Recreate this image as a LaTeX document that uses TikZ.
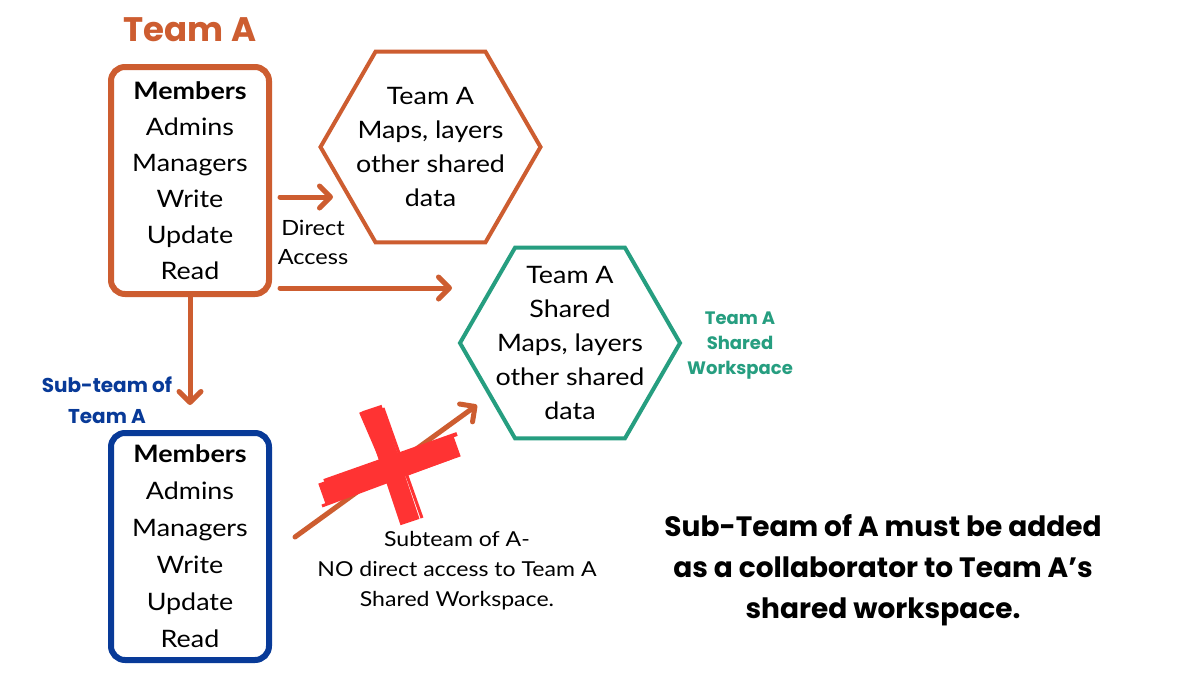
\documentclass[tikz,border=0pt]{standalone}
\usepackage{fontspec}
\setmainfont{Lato}[FakeStretch=1.12]
\newfontfamily\heavy{Poppins}
\usetikzlibrary{arrows.meta,shapes.geometric}
\definecolor{teamorange}{RGB}{205,93,48}
\definecolor{sharedgreen}{RGB}{38,158,128}
\definecolor{subblue}{RGB}{8,58,152}
\definecolor{crossred}{RGB}{255,51,51}

\begin{document}
\begin{tikzpicture}[x=0.5pt, y=-0.5pt,
    teambox/.style={draw, line width=3pt, rounded corners=7pt, minimum width=79pt,
      minimum height=113.5pt, inner sep=0pt, outer sep=0pt, align=center},
    hexa/.style={draw, regular polygon, regular polygon sides=6,
      minimum size=110pt, line width=2pt, inner sep=0pt, outer sep=0pt},
    hextext/.style={align=center, font=\fontsize{12}{17}\selectfont},
    link/.style={draw=teamorange, line width=2.5pt, line cap=round,
      -{Straight Barb[length=5.5pt,width=11pt,round]}},
    brush/.style={draw=crossred, line cap=butt}]
    \useasboundingbox[fill=white] (0,0) rectangle (1200,675);
    % team A and its data
    \node[font=\heavy\bfseries\fontsize{17}{20}\selectfont, text=teamorange] (title) at (190,30) {Team A};
    \node[teambox, draw=teamorange, font=\fontsize{12}{18}\selectfont] (teamA) at (190,180.5)
      {{\bfseries Members}\\Admins\\Managers\\Write\\Update\\Read};
    \node[hexa, draw=teamorange] (mapsA) at (430.5,147) {};
    \node[hextext] (mapsAtext) at (mapsA) {Team A\\Maps, layers\\other shared\\data};
    \node[hexa, draw=sharedgreen] (shared) at (570,343) {};
    \node[hextext] (sharedtext) at (shared) {Team A\\Shared\\Maps, layers\\other shared\\data};
    \node[font=\heavy\bfseries\fontsize{9}{12.5}\selectfont, text=sharedgreen, align=center] (wslabel)
      at (740,346) {Team A\\Shared\\Workspace};
    \node[font=\fontsize{10.5}{14.5}\selectfont, align=center] (direct) at (313,242) {Direct\\Access};
    % sub-team
    \node[font=\heavy\bfseries\fontsize{10}{15.5}\selectfont, text=subblue, align=center] (sublabel)
      at (107,400) {Sub-team of\\Team A};
    \node[teambox, draw=subblue, font=\fontsize{12}{18.5}\selectfont] (subA) at (190,546.5)
      {{\bfseries Members}\\Admins\\Managers\\Write\\Update\\Read};
    % arrows
    \draw[link] ([shift={(11,16.5)}]teamA.east) -- ([shift={(-97.5,50)}]mapsA.center);
    \draw[link] ([shift={(11,107.5)}]teamA.east) -- ([shift={(-118,-55)}]shared.center);
    \draw[link] ([shift={(0,3)}]teamA.south) -- ([shift={(0,-28)}]subA.north);
    \draw[link] ([shift={(26,-9.5)}]subA.east) -- ([shift={(-93,62)}]shared.center);
    % the cross
    \coordinate (x1a) at (372,408);
    \coordinate (x1b) at (410,522);
    \coordinate (x2a) at (322,494);
    \coordinate (x2b) at (457,446);
    \draw[brush, line width=10pt] (x1a) -- (x1b);
    \draw[brush, line width=11pt] (x2a) -- (x2b);
    \draw[brush, line width=2pt] ([shift={(-11,4)}]x1a) -- ([shift={(-5,-8)}]x1b);
    \draw[brush, line width=1.5pt] ([shift={(11,0)}]x1a) -- ([shift={(12,-4)}]x1b);
    \draw[brush, line width=2pt] ([shift={(2,-13)}]x2a) -- ([shift={(0,-12)}]x2b);
    \draw[brush, line width=1.5pt] ([shift={(0,12)}]x2a) -- ([shift={(-6,12)}]x2b);
    % notes
    \node[font=\fontsize{10.3}{15}\selectfont, align=center] (noaccess) at (457,571)
      {Subteam of A-\\NO direct access to Team A\\Shared Workspace.};
    \node[font=\heavy\bfseries\fontsize{14}{20.5}\selectfont, align=center] (note) at (883,570)
      {Sub-Team of A must be added\\as a collaborator to Team A’s\\shared workspace.};
\end{tikzpicture}
\end{document}
